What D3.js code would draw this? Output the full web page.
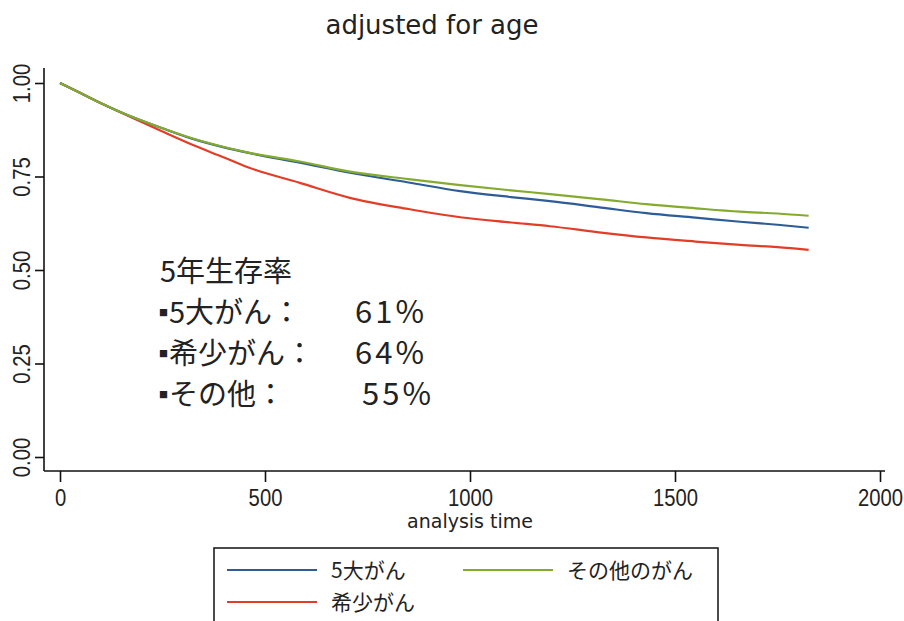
<!DOCTYPE html>
<html>
<head>
<meta charset="utf-8">
<script src="https://cdn.jsdelivr.net/npm/d3@7"></script>
<style>
  html, body { margin: 0; padding: 0; background: #fff; }
  svg { display: block; }
</style>
</head>
<body>
<svg id="chart" width="904" height="621"></svg>
<script>
// Adjusted survival curves by cancer group (days since diagnosis)
const days = [0, 50, 100, 163, 250, 320, 400, 460, 585, 707, 850, 976, 1100, 1195, 1320, 1430, 1550, 1659, 1750, 1826];
const survMajor5 = [1.000, 0.973, 0.946, 0.915, 0.879, 0.852, 0.828, 0.813, 0.787, 0.760, 0.734, 0.711, 0.695, 0.684, 0.667, 0.652, 0.640, 0.629, 0.621, 0.613];
const survRare   = [1.000, 0.973, 0.946, 0.914, 0.870, 0.836, 0.801, 0.774, 0.733, 0.693, 0.663, 0.641, 0.627, 0.617, 0.600, 0.587, 0.576, 0.567, 0.561, 0.554];
const survOther  = [1.000, 0.973, 0.946, 0.915, 0.879, 0.853, 0.829, 0.814, 0.790, 0.763, 0.743, 0.727, 0.713, 0.703, 0.689, 0.676, 0.665, 0.656, 0.651, 0.645];

const seriesNames = ["5大がん", "希少がん", "その他のがん"];
const seriesColors = ["#2d5c96", "#e23d26", "#84aa2e"];

const xTicks = [0, 500, 1000, 1500, 2000];
const yTicks = [0, 0.25, 0.5, 0.75, 1];

const titleText = "adjusted for age";
const xTitle = "analysis time";

const noteHeader = "5年生存率";
const noteLabels = ["5大がん：", "希少がん：", "その他："];
const noteValues = ["61%", "64%", "55%"];

const svg = d3.select("#chart");
const sans = "'Liberation Sans', Arial, sans-serif";
const wide = "'DejaVu Sans', sans-serif";
const jp = "'Noto Sans CJK JP', 'Noto Sans', sans-serif";

// plot region edges
const plotL = 44, plotR = 885, plotT = 68, plotB = 471;

const x = d3.scaleLinear().domain([0, 2000]).range([60, 880]);
const y = d3.scaleLinear().domain([0, 1]).range([457, 83]);

// title
svg.append("text")
  .attr("x", 432).attr("y", 34)
  .attr("text-anchor", "middle")
  .style("font-family", wide)
  .style("font-size", "26px")
  .attr("fill", "#222")
  .text(titleText);

// axis lines
svg.append("line").attr("x1", plotL).attr("x2", plotL).attr("y1", plotT).attr("y2", plotB)
  .attr("stroke", "#111").attr("stroke-width", 1.6);
svg.append("line").attr("x1", plotL).attr("x2", plotR).attr("y1", plotB).attr("y2", plotB)
  .attr("stroke", "#111").attr("stroke-width", 1.6);

// y axis
const yAxis = svg.append("g").attr("transform", `translate(${plotL},0)`)
  .call(d3.axisLeft(y).tickValues(yTicks).tickFormat(d3.format(".2f")).tickSize(9));
yAxis.select(".domain").remove();
yAxis.selectAll(".tick line").attr("stroke", "#111").attr("stroke-width", 1.6);
yAxis.selectAll(".tick text")
  .attr("transform", "rotate(-90) scale(0.88,1)")
  .attr("x", 0).attr("y", -22).attr("dy", null)
  .attr("text-anchor", "middle")
  .attr("dominant-baseline", "central")
  .attr("fill", "#222")
  .style("font-family", sans)
  .style("font-size", "23px");

// x axis
const xAxis = svg.append("g").attr("transform", `translate(0,${plotB})`)
  .call(d3.axisBottom(x).tickValues(xTicks).tickFormat(d3.format("d")).tickSize(11));
xAxis.select(".domain").remove();
xAxis.selectAll(".tick line").attr("stroke", "#111").attr("stroke-width", 1.6);
xAxis.selectAll(".tick text")
  .attr("y", 35).attr("dy", null)
  .attr("transform", "scale(0.88,1)")
  .attr("fill", "#222")
  .style("font-family", sans)
  .style("font-size", "23px");

svg.append("text")
  .attr("x", 470).attr("y", 528)
  .attr("text-anchor", "middle")
  .style("font-family", wide)
  .style("font-size", "19px")
  .attr("fill", "#222")
  .text(xTitle);

// survival curves
const allSeries = [survMajor5, survRare, survOther];
const line = d3.line()
  .x((d, i) => x(days[i]))
  .y(d => y(d))
  .curve(d3.curveMonotoneX);

// draw order: red first, then blue, green on top
[1, 0, 2].forEach(k => {
  svg.append("path")
    .datum(allSeries[k])
    .attr("d", line)
    .attr("fill", "none")
    .attr("stroke", seriesColors[k])
    .attr("stroke-width", 2.2)
    .attr("stroke-linejoin", "round");
});

// five-year survival note
const note = svg.append("g")
  .style("font-family", jp)
  .style("font-size", "29px")
  .attr("fill", "#222");
note.append("text").attr("x", 160).attr("y", 282).text(noteHeader);
const noteY = [323, 364, 405];
const valueX = [355, 355, 362];
noteLabels.forEach((t, i) => {
  const row = note.append("text").attr("x", 159).attr("y", noteY[i]);
  row.append("tspan").style("font-size", "9px").attr("dy", -7).text("■");
  row.append("tspan").attr("dx", 1).attr("dy", 7).text(t);
  note.append("text").attr("x", valueX[i]).attr("y", noteY[i])
    .style("font-size", "31px").style("letter-spacing", "3px")
    .text(noteValues[i]);
});

// legend
const lg = svg.append("g");
lg.append("rect")
  .attr("x", 214).attr("y", 548).attr("width", 504).attr("height", 90)
  .attr("fill", "none").attr("stroke", "#111").attr("stroke-width", 1.5);
const legendPos = [
  { lx: 227, ly: 570, k: 0 },
  { lx: 463, ly: 570, k: 2 },
  { lx: 227, ly: 602, k: 1 }
];
legendPos.forEach(p => {
  lg.append("line")
    .attr("x1", p.lx).attr("x2", p.lx + 90)
    .attr("y1", p.ly).attr("y2", p.ly)
    .attr("stroke", seriesColors[p.k]).attr("stroke-width", 2);
  lg.append("text")
    .attr("x", p.lx + 104).attr("y", p.ly + 8)
    .style("font-family", jp)
    .style("font-size", "21px")
    .attr("fill", "#222")
    .text(seriesNames[p.k]);
});
</script>
</body>
</html>
